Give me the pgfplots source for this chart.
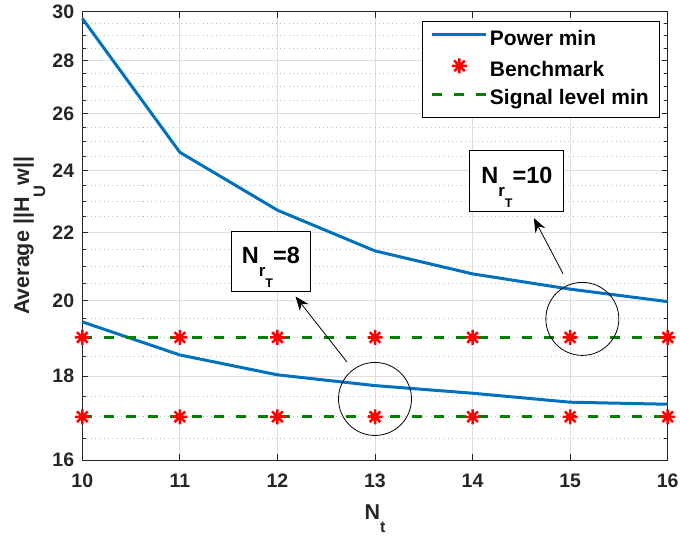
\documentclass[border=0pt]{standalone}
\usepackage{fontspec}
\setmainfont{Liberation Sans}
\usepackage{pgfplots}
\pgfplotsset{compat=1.18}
\usetikzlibrary{arrows.meta}
\definecolor{mblue}{RGB}{0,114,189}
\definecolor{mgreen}{RGB}{0,128,0}
\definecolor{axgray}{RGB}{38,38,38}

\pgfdeclareplotmark{mast}{%
  \pgfpathmoveto{\pgfqpoint{-\pgfplotmarksize}{0pt}}\pgfpathlineto{\pgfqpoint{\pgfplotmarksize}{0pt}}%
  \pgfpathmoveto{\pgfqpoint{0pt}{-\pgfplotmarksize}}\pgfpathlineto{\pgfqpoint{0pt}{\pgfplotmarksize}}%
  \pgfpathmoveto{\pgfqpoint{-0.7071\pgfplotmarksize}{-0.7071\pgfplotmarksize}}\pgfpathlineto{\pgfqpoint{0.7071\pgfplotmarksize}{0.7071\pgfplotmarksize}}%
  \pgfpathmoveto{\pgfqpoint{-0.7071\pgfplotmarksize}{0.7071\pgfplotmarksize}}\pgfpathlineto{\pgfqpoint{0.7071\pgfplotmarksize}{-0.7071\pgfplotmarksize}}%
  \pgfusepathqstroke}

\pgfplotsset{
  lineleg/.style={legend image code/.code={\draw[##1] (0pt,5pt) -- (54pt,5pt);}},
  markleg/.style={legend image code/.code={\path[draw=none] (0pt,5pt) -- (54pt,5pt); \draw[##1, only marks] plot coordinates {(27pt,5pt)};}},
}

\newcommand{\NrT}[1]{{\fontsize{23.5}{27}\selectfont\bfseries N\raisebox{-13.4pt}{\fontsize{17}{20}\selectfont r\raisebox{-10.5pt}{\fontsize{12.5}{15}\selectfont T}}=#1}}

\begin{document}
\begin{tikzpicture}
\begin{axis}[
  scale only axis, width=585.4pt, height=448.3pt,
  ymode=log, xmin=10, xmax=16, ymin=16, ymax=30,
  xtick={10,11,12,13,14,15,16},
  ytick={16,18,20,22,24,26,28,30},
  yticklabels={16,18,20,22,24,26,28,30},
  minor ytick={16.5,17,17.5,18.5,19,19.5,20.5,21,21.5,22.5,23,23.5,24.5,25,25.5,26.5,27,27.5,28.5,29,29.5},
  grid=both,
  major grid style={color=black!13, line width=0.8pt},
  minor grid style={color=black!25, line width=0.8pt, dash pattern=on 1pt off 3.3pt},
  axis line style={color=axgray, line width=0.8pt},
  every tick/.style={color=axgray, line width=0.8pt},
  major tick length=6pt, minor tick length=4pt,
  /pgf/number format/assume math mode=true,
  tick label style={font=\fontsize{19.5}{23}\selectfont\bfseries, color=axgray},
  xticklabel style={anchor=base, yshift=-28pt},
  yticklabel style={anchor=east, inner xsep=0pt, xshift=-8pt},
  xlabel={N\raisebox{-13pt}{\fontsize{16}{19}\selectfont t}},
  ylabel={Average ||H\raisebox{-16pt}{\fontsize{16.5}{20}\selectfont U}w||},
  label style={font=\fontsize{21.5}{26}\selectfont\bfseries, color=axgray},
  xlabel style={at={(axis description cs:0.5,-0.1338)}, anchor=base},
  ylabel style={at={(axis description cs:-0.091,0.5)}, anchor=base},
  clip=false,
  legend cell align=left,
  legend style={at={(0.987,0.980)}, anchor=north east, draw=black, line width=0.8pt, fill=white,
    font=\fontsize{21}{25}\selectfont\bfseries, text=black,
    inner xsep=9pt, inner ysep=9pt, row sep=8.8pt,
    nodes={text height=15pt, text depth=4.5pt, inner ysep=0pt, inner xsep=2pt},
    /tikz/every even column/.append style={column sep=3pt}},
]
% Power min
\addplot[color=mblue, line width=3pt, lineleg]
  coordinates {(10,29.72) (11,24.63) (12,22.71) (13,21.45) (14,20.77) (15,20.33) (16,19.98)};
\addlegendentry{Power min}
\addplot[color=mblue, line width=3pt, forget plot]
  coordinates {(10,19.42) (11,18.54) (12,18.03) (13,17.76) (14,17.57) (15,17.35) (16,17.30)};
% Benchmark
\addplot[only marks, color=red, mark=mast, mark size=7.5pt, line width=2.5pt, markleg]
  coordinates {(10,19) (11,19) (12,19) (13,19) (14,19) (15,19) (16,19)};
\addlegendentry{Benchmark}
\addplot[only marks, color=red, mark=mast, mark size=7.5pt, line width=2.5pt, forget plot]
  coordinates {(10,17) (11,17) (12,17) (13,17) (14,17) (15,17) (16,17)};
% Signal level min
\addplot[color=mgreen, line width=3pt, dash pattern=on 10pt off 12pt, lineleg]
  coordinates {(10,19) (11,19) (12,19) (13,19) (14,19) (15,19) (16,19)};
\addlegendentry{Signal level min}
\addplot[color=mgreen, line width=3pt, dash pattern=on 10pt off 12pt, forget plot]
  coordinates {(10,17) (11,17) (12,17) (13,17) (14,17) (15,17) (16,17)};

% annotations
\draw[black, line width=0.8pt] (axis cs:13,17.43) circle[radius=36.5pt];
\draw[black, line width=0.8pt] (axis cs:15.125,19.50) circle[radius=36.5pt];
\draw[black, line width=0.8pt, -{Stealth[length=14pt,width=11pt]}] (axis cs:12.712,18.36) -- (axis cs:12.186,20.12);
\draw[black, line width=0.8pt, -{Stealth[length=14pt,width=11pt]}] (axis cs:14.928,20.77) -- (axis cs:14.628,22.46);
\node[draw=black, line width=0.8pt, fill=white, inner sep=0pt, text height=32pt, text depth=28pt, minimum width=79pt] at (axis cs:11.933,21.14) {\NrT{8}};
\node[draw=black, line width=0.8pt, fill=white, inner sep=0pt, text height=33pt, text depth=28pt, minimum width=94pt] at (axis cs:14.454,23.67) {\NrT{10}};
\end{axis}
\pgfresetboundingbox
\path ([shift={(-82.3pt,-76pt)}]current axis.south west) rectangle ++(680pt,536pt);
\end{tikzpicture}
\end{document}
